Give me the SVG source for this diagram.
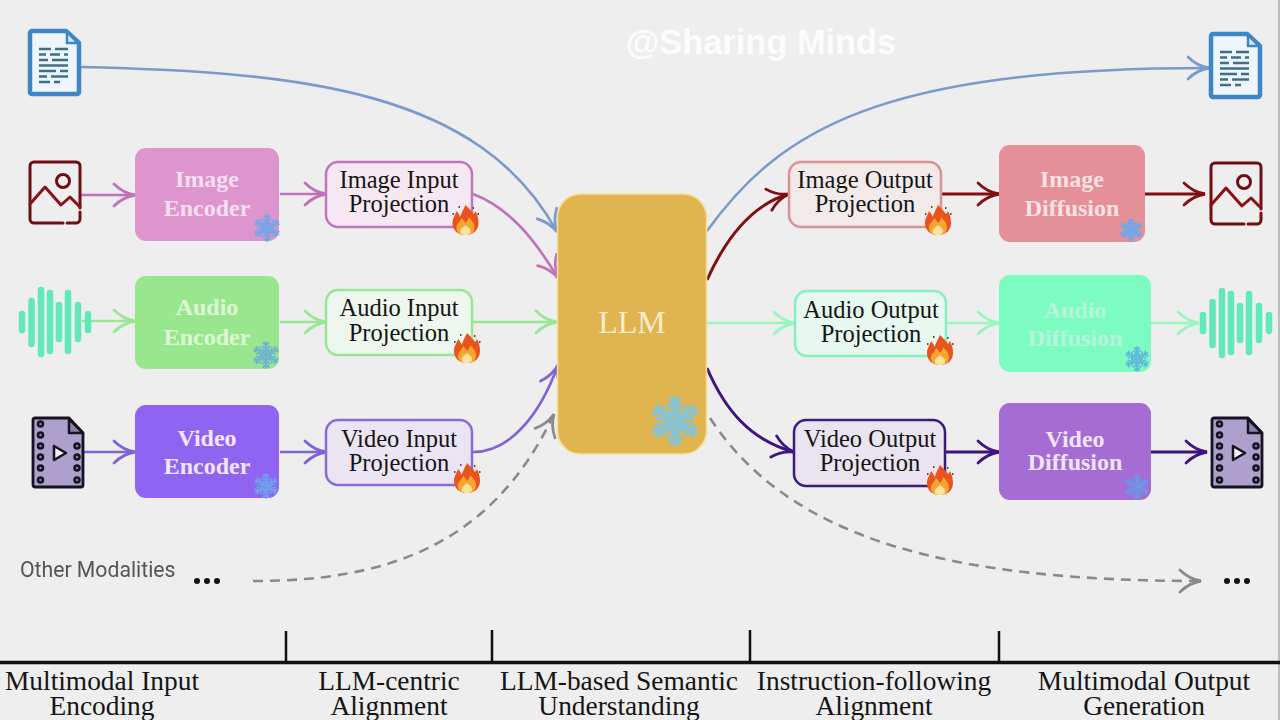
<svg xmlns="http://www.w3.org/2000/svg" width="1280" height="720" viewBox="0 0 1280 720">
<style>
.bx{stroke-width:2.5}
.t{font-family:"Liberation Serif","Times New Roman",serif;text-anchor:middle}
.b{font-weight:bold;font-size:24px}
.p{font-size:24.5px;fill:#151515}
.f{font-size:27.400px;fill:#151515}
.c{fill:none;stroke-width:2.6}
.d{stroke-dasharray:10 7;stroke:#8a8a8a}
.rule{stroke:#111;fill:none}
.e1{stroke:#7b9ac9;marker-end:url(#a1)}
.e2{stroke:#bf72b8;marker-end:url(#a2)}
.e3{stroke:#9be696;marker-end:url(#a3)}
.e4{stroke:#8163d6;marker-end:url(#a4)}
.e5{stroke:#7f0f12;stroke-width:3;marker-end:url(#a5)}
.e6{stroke:#9cf5c0;marker-end:url(#a6)}
.e7{stroke:#3d1480;stroke-width:3;marker-end:url(#a7)}
.e8{stroke:#8a8a8a;marker-end:url(#a8)}
.chev{fill:none;stroke-width:2.8;stroke-linecap:round}
</style>
<defs>
<marker id="a1" markerUnits="userSpaceOnUse" markerWidth="30" markerHeight="30" refX="26" refY="15" orient="auto" viewBox="0 0 30 30"><path class="chev" stroke="#7b9ac9" d="M5 4Q14 13 26 15Q14 17 5 26"/></marker>
<marker id="a2" markerUnits="userSpaceOnUse" markerWidth="30" markerHeight="30" refX="26" refY="15" orient="auto" viewBox="0 0 30 30"><path class="chev" stroke="#bf72b8" d="M5 4Q14 13 26 15Q14 17 5 26"/></marker>
<marker id="a3" markerUnits="userSpaceOnUse" markerWidth="30" markerHeight="30" refX="26" refY="15" orient="auto" viewBox="0 0 30 30"><path class="chev" stroke="#9be696" d="M5 4Q14 13 26 15Q14 17 5 26"/></marker>
<marker id="a4" markerUnits="userSpaceOnUse" markerWidth="30" markerHeight="30" refX="26" refY="15" orient="auto" viewBox="0 0 30 30"><path class="chev" stroke="#8163d6" d="M5 4Q14 13 26 15Q14 17 5 26"/></marker>
<marker id="a5" markerUnits="userSpaceOnUse" markerWidth="30" markerHeight="30" refX="26" refY="15" orient="auto" viewBox="0 0 30 30"><path class="chev" stroke="#7f0f12" d="M5 4Q14 13 26 15Q14 17 5 26"/></marker>
<marker id="a6" markerUnits="userSpaceOnUse" markerWidth="30" markerHeight="30" refX="26" refY="15" orient="auto" viewBox="0 0 30 30"><path class="chev" stroke="#9cf5c0" d="M5 4Q14 13 26 15Q14 17 5 26"/></marker>
<marker id="a7" markerUnits="userSpaceOnUse" markerWidth="30" markerHeight="30" refX="26" refY="15" orient="auto" viewBox="0 0 30 30"><path class="chev" stroke="#3d1480" d="M5 4Q14 13 26 15Q14 17 5 26"/></marker>
<marker id="a8" markerUnits="userSpaceOnUse" markerWidth="30" markerHeight="30" refX="26" refY="15" orient="auto" viewBox="0 0 30 30"><path class="chev" stroke="#8a8a8a" d="M5 4Q14 13 26 15Q14 17 5 26"/></marker>

<filter id="soft" x="-5%" y="-20%" width="110%" height="140%"><feGaussianBlur stdDeviation="0.5"/></filter>

<g id="doc">
<path d="M2 0H36L49 12V61a2 2 0 0 1-2 2H2a2 2 0 0 1-2-2V2a2 2 0 0 1 2-2Z" fill="#eef5fb" stroke="#3f86c6" stroke-width="4.500" stroke-linejoin="round"/>
<path d="M37 1V12H48Z" fill="#d8e8f5" stroke="#3f86c6" stroke-width="2.500" stroke-linejoin="round"/>
<path d="M9 18H21M25 18H38M9 23.500H16M20 23.500H30M34 23.500H38M9 29H18M22 29H38M9 34.500H38M9 40H26M30 40H38M9 45.500H17M21 45.500H38M9 51H20M24 51H30" stroke="#3f6f88" stroke-width="2.400" fill="none"/>
</g>
<g id="pic" fill="none" stroke="#6e0f14" stroke-width="3" stroke-linecap="round" stroke-linejoin="round">
<path d="M0 46V4a4 4 0 0 1 4-4H46a4 4 0 0 1 4 4V46M50 50V57a4 4 0 0 1-4 4H37M33 61H4a4 4 0 0 1-4-4V46"/>
<path d="M0 42L15 25L31 43L40 35L50 45" stroke="#8a1015"/>
<circle cx="33" cy="19" r="6.500"/>
</g>
<g id="wave" stroke="#62e8bd" stroke-width="6.500" stroke-linecap="round">
<path d="M0 -8V8M9.500 -21V22M19 -32V32M28 -29V29M37 -17V17M46 -29V29M56 -17V17M66 -8V8"/>
</g>
<g id="film">
<path d="M2 0H36L50 15V67a2 2 0 0 1-2 2H2a2 2 0 0 1-2-2V2a2 2 0 0 1 2-2Z" fill="#ada0cc" stroke="#151320" stroke-width="2.800" stroke-linejoin="round"/>
<path d="M36 1V15H50Z" fill="#8e7fb0" stroke="#151320" stroke-width="2.500" stroke-linejoin="round"/>
<g fill="#8e7fb0" stroke="#151320" stroke-width="2.500">
<circle cx="7.500" cy="6" r="2.500"/><circle cx="7.500" cy="17" r="2.500"/><circle cx="7.500" cy="28" r="2.500"/><circle cx="7.500" cy="39" r="2.500"/><circle cx="7.500" cy="50" r="2.500"/><circle cx="7.500" cy="62" r="2.500"/>
<circle cx="44" cy="28" r="2.500"/><circle cx="44" cy="39" r="2.500"/><circle cx="44" cy="50" r="2.500"/><circle cx="44" cy="62" r="2.500"/>
</g>
<path d="M21 28L33 35L21 42Z" fill="#f2f0f6" stroke="#151320" stroke-width="2.500" stroke-linejoin="round"/>
</g>
<g id="flake" fill="none" stroke-width="0.150" stroke-linecap="round">
<g id="arm3"><g id="arm"><path d="M0 0V-1M0 -.45L-.27 -.68M0 -.45L.27 -.68M0 -.72L-.2 -.92M0 -.72L.2 -.92M0 -.22L-.2 -.38M0 -.22L.2 -.38"/></g>
<use href="#arm" transform="rotate(60)"/><use href="#arm" transform="rotate(120)"/></g>
<use href="#arm3" transform="rotate(180)"/>
</g>
<g id="fire">
<path d="M0 15C-8 15 -13 10 -13 3C-13 -2 -10 -5 -9 -9C-7 -7 -6 -5 -5.500 -3C-4 -7 -2 -11 0 -15C3 -12 6 -9 8 -6C9 -7 9.500 -8 10 -9C12 -5 13 -1 13 3C13 10 8 15 0 15Z" fill="#e8541c"/>
<path d="M0 15C-7 15 -10 11 -9 6C-8 3 -5 2 -4 -2C-2 0 -1 1 0 3C2 1 3 -1 3 -3C6 0 9 3 9 7C9 12 6 15 0 15Z" fill="#f7a531"/>
<path d="M0 15C-4 15 -6 13 -5 10C-4 8 -2 7 0 5C2 7 5 8 5 11C5 14 3 15 0 15Z" fill="#fbe39a"/>
<path d="M-7 -13h1.500M7 -12h1.500M-13 -6h1.500M12 -6h1.500" stroke="#6b4a3a" stroke-width="1.800"/>
</g>
</defs>

<rect width="1280" height="720" fill="#eeeeee"/>
<rect x="1278" y="0" width="2" height="720" fill="#bdbdbd"/>

<g id="connectors">
<path class="c e1" d="M81 67C300 72 480 90 557 232"/>
<path class="c e2" d="M81 195H135"/>
<path class="c e2" d="M280 194H326"/>
<path class="c e2" d="M473 194C510 208 535 240 558 278"/>
<path class="c e3" d="M82 321H135"/>
<path class="c e3" d="M280 322H326"/>
<path class="c e3" d="M473 322H557"/>
<path class="c e4" d="M83 452H135"/>
<path class="c e4" d="M280 452H326"/>
<path class="c e4" d="M473 452C510 452 540 415 558 365"/>
<path class="c d e8" d="M253 581C380 581 490 550 554 414"/>
<path class="c e1" d="M707 231C780 130 880 68 1209 68"/>
<path class="c e5" d="M707 280C725 240 750 205 789 194"/>
<path class="c e5" d="M942 194H999"/>
<path class="c e5" d="M1145 194H1205"/>
<path class="c e6" d="M707 323H795"/>
<path class="c e6" d="M946 323H999"/>
<path class="c e6" d="M1151 323H1199"/>
<path class="c e7" d="M707 368C725 410 750 440 794 452"/>
<path class="c e7" d="M946 452H999"/>
<path class="c e7" d="M1151 452H1207"/>
<path class="c d e8" d="M710 418C790 540 950 581 1201 581"/>
</g>

<g id="doc-in"><use href="#doc" x="30" y="31"/></g>
<g id="img-in"><use href="#pic" x="30" y="162"/></g>
<g id="audio-in"><use href="#wave" x="22" y="322"/></g>
<g id="video-in"><use href="#film" x="33" y="418"/></g>
<g id="doc-out"><use href="#doc" x="1211" y="34"/></g>
<g id="img-out"><use href="#pic" x="1211" y="163"/></g>
<g id="audio-out"><use href="#wave" x="1203" y="323"/></g>
<g id="video-out"><use href="#film" x="1212" y="418"/></g>

<g id="image-encoder"><rect x="135" y="148" width="144" height="93" rx="11" fill="#de95cd"/>
<text class="t b" fill="#f6dff0" x="207" y="187">Image</text><text class="t b" fill="#f6dff0" x="207" y="216">Encoder</text>
<use href="#flake" transform="translate(267 228) scale(13)" stroke="#74a6e6"/></g>
<g id="audio-encoder"><rect x="135" y="276" width="144" height="93" rx="11" fill="#98e78f"/>
<text class="t b" fill="#def8d6" x="207" y="315">Audio</text><text class="t b" fill="#def8d6" x="207" y="345">Encoder</text>
<use href="#flake" transform="translate(266 355) scale(13)" stroke="#6fb3cf"/></g>
<g id="video-encoder"><rect x="135" y="405" width="144" height="93" rx="11" fill="#8f64f0"/>
<text class="t b" fill="#f1e6fb" x="207" y="446">Video</text><text class="t b" fill="#f1e6fb" x="207" y="474">Encoder</text>
<use href="#flake" transform="translate(266 486) scale(12)" stroke="#6ea0ee"/></g>

<g id="image-input-projection"><rect class="bx" x="326" y="162" width="146" height="65" rx="12" fill="#f5e8f3" stroke="#c276b9"/>
<text class="t p" x="399" y="188">Image Input</text><text class="t p" x="399" y="212">Projection</text>
<use href="#fire" x="465.500" y="220"/></g>
<g id="audio-input-projection"><rect class="bx" x="326" y="290" width="146" height="65" rx="12" fill="#eef7ee" stroke="#9be696"/>
<text class="t p" x="399" y="316">Audio Input</text><text class="t p" x="399" y="341">Projection</text>
<use href="#fire" x="467" y="348"/></g>
<g id="video-input-projection"><rect class="bx" x="326" y="420" width="146" height="65" rx="12" fill="#ebe5f3" stroke="#8a6bd0"/>
<text class="t p" x="399" y="447">Video Input</text><text class="t p" x="399" y="471">Projection</text>
<use href="#fire" x="467" y="478"/></g>

<g id="llm"><rect x="557.500" y="194" width="149" height="260" rx="23" fill="#e0b44e" stroke="#f5dd9c" stroke-width="1.500"/>
<text class="t" x="632" y="333" font-size="32" fill="#f7ecd0">LLM</text>
<use href="#flake" transform="translate(675 421) scale(24)" stroke="#85c3d8"/></g>

<g id="image-output-projection"><rect class="bx" x="789" y="162" width="152" height="65" rx="12" fill="#f2e9e9" stroke="#d99295"/>
<text class="t p" x="865" y="188">Image Output</text><text class="t p" x="865" y="212">Projection</text>
<use href="#fire" x="938" y="220"/></g>
<g id="audio-output-projection"><rect class="bx" x="795" y="291" width="151" height="65" rx="12" fill="#e7f8f0" stroke="#86eec0"/>
<text class="t p" x="871" y="318">Audio Output</text><text class="t p" x="871" y="342">Projection</text>
<use href="#fire" x="940" y="350"/></g>
<g id="video-output-projection"><rect class="bx" x="794" y="420" width="151" height="66" rx="12" fill="#e9e4ef" stroke="#3a1c7a"/>
<text class="t p" x="870" y="447">Video Output</text><text class="t p" x="870" y="471">Projection</text>
<use href="#fire" x="940" y="480"/></g>

<g id="image-diffusion"><rect x="999" y="145" width="146" height="97" rx="11" fill="#e58f98"/>
<text class="t b" fill="#f8e2e2" x="1072" y="187">Image</text><text class="t b" fill="#f8e2e2" x="1072" y="216">Diffusion</text>
<use href="#flake" transform="translate(1131 230) scale(11)" stroke="#6aa9ee"/></g>
<g id="audio-diffusion"><rect x="999" y="275" width="152" height="97" rx="11" fill="#7dfcc2"/>
<text class="t b" fill="#b7f5db" x="1075" y="318">Audio</text><text class="t b" fill="#b7f5db" x="1075" y="346">Diffusion</text>
<use href="#flake" transform="translate(1137 359) scale(12)" stroke="#62b8d8"/></g>
<g id="video-diffusion"><rect x="999" y="403" width="152" height="97" rx="11" fill="#a56cd4"/>
<text class="t b" fill="#f0e4f8" x="1075" y="447">Video</text><text class="t b" fill="#f0e4f8" x="1075" y="470">Diffusion</text>
<use href="#flake" transform="translate(1137 487) scale(12)" stroke="#6e96e8"/></g>

<g id="other-in"><text x="20" y="577" font-family="Roboto,'Liberation Sans',sans-serif" font-size="21.200" fill="#555" filter="url(#soft)">Other Modalities</text>
<circle cx="197" cy="581" r="3" fill="#111"/><circle cx="207" cy="581" r="3" fill="#111"/><circle cx="217" cy="581" r="3" fill="#111"/></g>
<g id="other-out"><circle cx="1227" cy="581" r="3" fill="#111"/><circle cx="1237" cy="581" r="3" fill="#111"/><circle cx="1247" cy="581" r="3" fill="#111"/></g>

<g id="watermark"><text x="761" y="54" font-family="'Liberation Sans',Arial,sans-serif" font-weight="bold" font-size="34.400" text-anchor="middle" fill="#ffffff" fill-opacity=".85">@Sharing Minds</text></g>

<g id="timeline">
<path class="rule" stroke-width="3.500" d="M0 662.500H1280"/>
<path class="rule" stroke-width="2.500" d="M286 631V662M492 630V662M750 630V662M999 631V662"/>
<text class="t f" x="102" y="690">Multimodal Input</text><text class="t f" x="102" y="715">Encoding</text>
<text class="t f" x="389" y="690">LLM-centric</text><text class="t f" x="389" y="715">Alignment</text>
<text class="t f" x="619" y="690">LLM-based Semantic</text><text class="t f" x="619" y="715">Understanding</text>
<text class="t f" x="874" y="690">Instruction-following</text><text class="t f" x="874" y="715">Alignment</text>
<text class="t f" x="1144" y="690">Multimodal Output</text><text class="t f" x="1144" y="715">Generation</text>
</g>
</svg>
